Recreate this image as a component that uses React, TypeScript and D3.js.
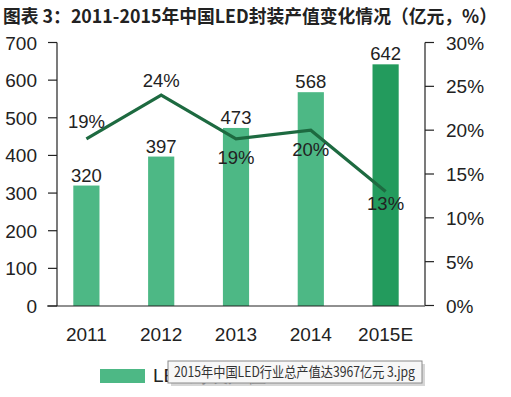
import React from "react";
import * as d3 from "d3";

const years = ["2011", "2012", "2013", "2014", "2015E"];
const output = [320, 397, 473, 568, 642];
const growth = [19, 24, 19, 20, 13];
const leftTicks = [0, 100, 200, 300, 400, 500, 600, 700];
const rightTicks = [0, 5, 10, 15, 20, 25, 30];

const W = 511;
const H = 397;

const App = () => {
  const x = d3.scaleBand().domain(years).range([49, 423]).paddingInner(0.65).paddingOuter(0.325);
  const yL = d3.scaleLinear().domain([0, 700]).range([306, 42.5]);
  const yR = d3.scaleLinear().domain([0, 30]).range([305.5, 42.5]);
  const cx = (d) => x(d) + x.bandwidth() / 2;

  const line = d3
    .line()
    .x((d, i) => cx(years[i]))
    .y((d) => yR(d));

  // growth label offsets: above for first two, below for the rest
  const pctDy = [-11, -8, 25, 26, 18];

  const font = "'Liberation Sans', Arial, sans-serif";

  return (
    <svg
      width={W}
      height={H}
      style={{ position: "absolute", left: 0, top: 0, background: "#fff" }}
    >
      <text
        x={3}
        y={23}
        fontFamily="'Noto Sans CJK SC', sans-serif"
        fontWeight="bold"
        fontSize={18.5}
        fill="#222"
        textLength={494}
        lengthAdjust="spacingAndGlyphs"
      >
        图表 3：2011-2015年中国LED封装产值变化情况（亿元，%）
      </text>

      {/* bars */}
      {output.map((v, i) => (
        <rect
          key={years[i]}
          x={x(years[i])}
          y={yL(v)}
          width={x.bandwidth()}
          height={yL(0) - yL(v)}
          fill={i === 4 ? "#239b5d" : "#4db885"}
        />
      ))}

      {/* left axis */}
      <g fontFamily={font} fontSize={19} fill="#222">
        <line x1={57} x2={57} y1={yL(700)} y2={yL(0)} stroke="#222" strokeWidth={1.2} />
        {leftTicks.map((t) => (
          <g key={t}>
            <line x1={48} x2={57} y1={yL(t)} y2={yL(t)} stroke="#222" strokeWidth={1.2} />
            <text x={37} y={yL(t) + 7} textAnchor="end">
              {t}
            </text>
          </g>
        ))}
      </g>

      {/* right axis */}
      <g fontFamily={font} fontSize={19} fill="#222">
        <line x1={425} x2={425} y1={yR(30)} y2={yR(0)} stroke="#222" strokeWidth={1.2} />
        {rightTicks.map((t) => (
          <g key={t}>
            <line x1={425} x2={434} y1={yR(t)} y2={yR(t)} stroke="#222" strokeWidth={1.2} />
            <text x={446} y={yR(t) + 7}>
              {t}%
            </text>
          </g>
        ))}
      </g>

      {/* bottom axis */}
      <line x1={47} x2={425} y1={yL(0)} y2={yL(0)} stroke="#222" strokeWidth={1.2} />
      <g fontFamily={font} fontSize={19} fill="#222" textAnchor="middle">
        {years.map((yr) => (
          <text key={yr} x={cx(yr)} y={341}>
            {yr}
          </text>
        ))}
      </g>

      {/* bar value labels */}
      <g fontFamily={font} fontSize={18.5} fill="#222" textAnchor="middle">
        {output.map((v, i) => (
          <text key={i} x={cx(years[i])} y={yL(v) - 4}>
            {v}
          </text>
        ))}
      </g>

      {/* growth line */}
      <path d={line(growth)} fill="none" stroke="#1d6a40" strokeWidth={3.2} />
      <g fontFamily={font} fontSize={18.5} fill="#222" textAnchor="middle">
        {growth.map((v, i) => (
          <text key={i} x={cx(years[i])} y={yR(v) + pctDy[i]}>
            {v}%
          </text>
        ))}
      </g>

      {/* legend (partly hidden by tooltip) */}
      <rect x={100} y={369} width={45} height={14} fill="#4db885" />
      <text x={153} y={382} fontFamily={font} fontSize={19} fill="#222">
        LED封装产值
      </text>

      {/* hover tooltip */}
      <rect x={171} y={364} width={254} height={22} fill="#bbb" opacity={0.6} />
      <rect x={168} y={361} width={254} height={22} fill="#f7f7f7" stroke="#8a8a8a" strokeWidth={1} />
      <text
        x={174}
        y={377}
        fontFamily="'Noto Sans CJK SC', sans-serif"
        fontSize={14}
        fill="#333"
        textLength={241}
        lengthAdjust="spacingAndGlyphs"
      >
        2015年中国LED行业总产值达3967亿元 3.jpg
      </text>
    </svg>
  );
};

export default App;
